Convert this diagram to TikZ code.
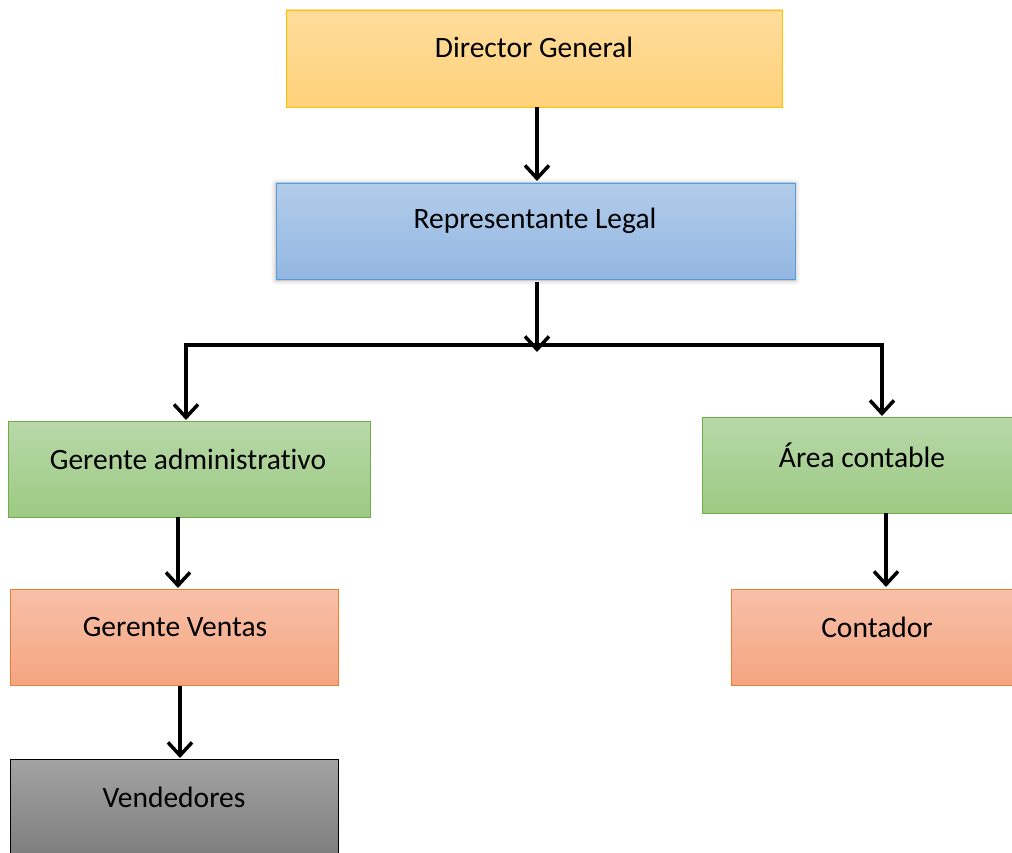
\documentclass[tikz,border=0pt]{standalone}
\usepackage{fontspec}
\setmainfont{Carlito}[Ligatures=NoCommon]
\usetikzlibrary{arrows.meta,shadows.blur}
\definecolor{yTop}{HTML}{FFDC9C}
\definecolor{yBot}{HTML}{FFD27A}
\definecolor{yLine}{HTML}{FFC000}
\definecolor{bTop}{HTML}{B2CCEA}
\definecolor{bBot}{HTML}{93B7E2}
\definecolor{bLine}{HTML}{5B9BD5}
\definecolor{gTop}{HTML}{B8D8A8}
\definecolor{gBot}{HTML}{9CCA84}
\definecolor{gLine}{HTML}{70AD47}
\definecolor{oTop}{HTML}{F8C0A8}
\definecolor{oBot}{HTML}{F4A581}
\definecolor{oLine}{HTML}{ED7D31}
\definecolor{kTop}{HTML}{A3A3A3}
\definecolor{kBot}{HTML}{7C7C7C}
\tikzset{
  box/.style={draw, line width=0.8pt, inner sep=0pt},
  lbl/.style={font=\fontsize{29.5}{34}\selectfont, inner sep=0pt, anchor=center},
  conn/.style={line width=3.5pt, -{Straight Barb[length=13pt,width=24pt,line width=3.5pt]}},
  plain/.style={line width=3.5pt},
}
\begin{document}
\begin{tikzpicture}[x=1pt,y=-1pt]
\useasboundingbox (0,0) rectangle (1012,853);
% boxes
\path[box, draw=yLine, top color=yTop, bottom color=yBot] (286,10) rectangle (782,107);
\node[lbl] (dg) at (534,47) {Director General};
\coordinate (dgB) at (537,107);
\path[box, draw=bLine, top color=bTop, bottom color=bBot,
  blur shadow={shadow xshift=0pt, shadow yshift=-1pt, shadow blur radius=5pt, shadow opacity=35}] (276,183) rectangle (795,279);
\node[lbl] (rl) at (535,221) {Representante Legal};
\coordinate (rlT) at (537,181);
\coordinate (rlB) at (537,282);
\path[box, draw=gLine, top color=gTop, bottom color=gBot] (8,421) rectangle (370,517);
\node[lbl] (ga) at (188,459) {Gerente administrativo};
\path[box, draw=gLine, top color=gTop, bottom color=gBot] (702,417) rectangle (1014,513);
\node[lbl] (ac) at (862,455) {Área contable};
\path[box, draw=oLine, top color=oTop, bottom color=oBot] (10,589) rectangle (338,685);
\node[lbl] (gv) at (175,627) {Gerente Ventas};
\path[box, draw=oLine, top color=oTop, bottom color=oBot] (731,589) rectangle (1014,685);
\node[lbl] (co) at (877,627) {Contador};
\path[box, draw=black, top color=kTop, bottom color=kBot] (10,759) rectangle (338,860);
\node[lbl] (ve) at (174,797) {Vendedores};
% connector coordinates
\coordinate (busArr) at (537,352);
\coordinate (busL) at (186,345);
\coordinate (busR) at (882,345);
\coordinate (gaT) at (186,420);
\coordinate (acT) at (882,416);
\coordinate (gaB) at (178,517);
\coordinate (gvT) at (178,588);
\coordinate (gvB) at (180,686);
\coordinate (veT) at (180,758);
\coordinate (acB) at (886,513);
\coordinate (coT) at (886,587);
% connectors
\draw[conn] (dgB) -- (rlT);
\draw[conn] (rlB) -- (busArr);
\draw[plain, line cap=rect] (busL) -- (busR);
\draw[conn] (busL) -- (gaT);
\draw[conn] (busR) -- (acT);
\draw[conn] (gaB) -- (gvT);
\draw[conn] (gvB) -- (veT);
\draw[conn] (acB) -- (coT);
\end{tikzpicture}
\end{document}
